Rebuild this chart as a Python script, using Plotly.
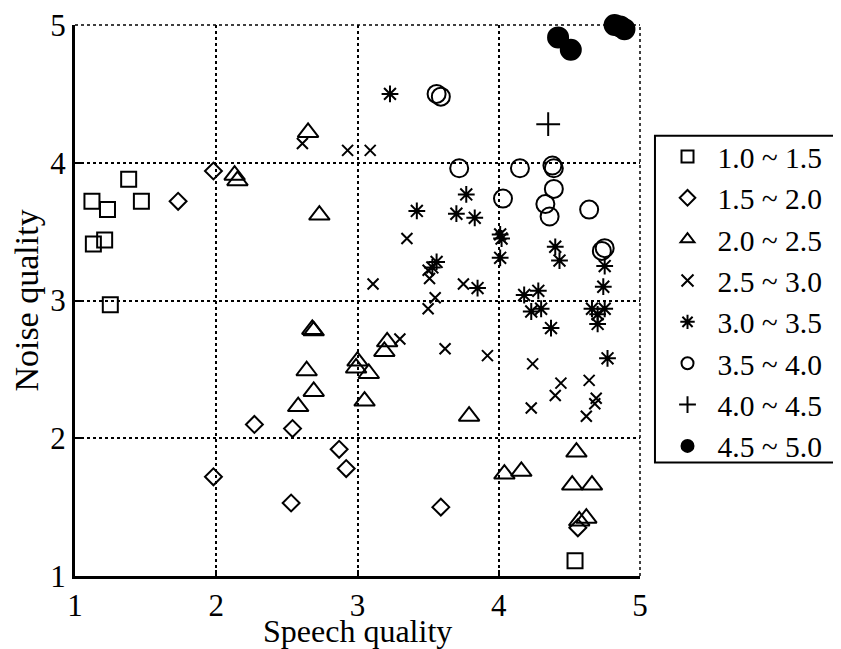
import plotly.graph_objects as go

# ---- data ----
labels = ["1.0 ~ 1.5", "1.5 ~ 2.0", "2.0 ~ 2.5", "2.5 ~ 3.0",
          "3.0 ~ 3.5", "3.5 ~ 4.0", "4.0 ~ 4.5", "4.5 ~ 5.0"]

sq_x = [1.12, 1.23, 1.38, 1.47, 1.13, 1.21, 1.25, 4.54]
sq_y = [3.72, 3.66, 3.88, 3.72, 3.41, 3.44, 2.97, 1.11]

di_x = [1.98, 1.73, 2.27, 2.54, 1.98, 2.53, 2.87, 2.92, 3.59, 4.56]
di_y = [3.94, 3.72, 2.10, 2.07, 1.72, 1.53, 1.92, 1.78, 1.50, 1.35]

tr_x = [2.65, 2.13, 2.15, 2.73, 2.68, 2.69, 2.64, 2.69, 2.58, 3.00, 2.99,
        3.08, 3.05, 3.21, 3.19, 3.79, 4.04, 4.16, 4.55, 4.52, 4.66, 4.62, 4.57]
tr_y = [4.22, 3.91, 3.87, 3.62, 2.79, 2.78, 2.49, 2.34, 2.23, 2.56, 2.51,
        2.47, 2.27, 2.70, 2.63, 2.16, 1.74, 1.76, 1.90, 1.66, 1.66, 1.42, 1.40]

xx_x = [2.61, 2.93, 3.09, 3.35, 3.11, 3.50, 3.51, 3.75, 3.55, 3.50, 3.30,
        3.62, 3.92, 4.24, 4.44, 4.40, 4.23, 4.64, 4.69, 4.68, 4.62]
xx_y = [4.14, 4.09, 4.09, 3.45, 3.12, 3.22, 3.16, 3.12, 3.02, 2.94, 2.72,
        2.65, 2.60, 2.54, 2.40, 2.31, 2.22, 2.42, 2.29, 2.25, 2.16]

as_x = [3.23, 3.42, 3.77, 3.70, 3.83, 4.01, 4.02, 4.01, 3.56, 3.53, 3.85,
        4.18, 4.28, 4.40, 4.43, 4.75, 4.74, 4.23, 4.30, 4.37, 4.66, 4.75,
        4.70, 4.77, 4.70]
as_y = [4.50, 3.65, 3.77, 3.63, 3.60, 3.48, 3.45, 3.31, 3.28, 3.24, 3.09,
        3.04, 3.07, 3.39, 3.29, 3.25, 3.10, 2.92, 2.94, 2.80, 2.94, 2.94,
        2.83, 2.58, 2.90]

ci_x = [3.56, 3.59, 3.72, 4.15, 4.38, 4.39, 4.03, 4.39, 4.33, 4.36, 4.64, 4.75, 4.73]
ci_y = [4.50, 4.48, 3.96, 3.96, 3.98, 3.96, 3.74, 3.81, 3.70, 3.61, 3.66, 3.38, 3.36]

pl_x = [4.35]
pl_y = [4.28]

fc_x = [4.42, 4.51, 4.82, 4.86, 4.89]
fc_y = [4.91, 4.82, 5.00, 4.99, 4.97]

x_ticks = [1, 2, 3, 4, 5]
y_ticks = [1, 2, 3, 4, 5]
x_title = "Speech quality"
y_title = "Noise quality"

series = [
    (sq_x, sq_y, "square-open", 15),
    (di_x, di_y, "diamond-open", 13),
    (tr_x, tr_y, "triangle-up-open", 18),
    (xx_x, xx_y, "x-thin-open", 11),
    (as_x, as_y, "asterisk-open", 14),
    (ci_x, ci_y, "circle-open", 18),
    (pl_x, pl_y, "cross-thin-open", 17),
    (fc_x, fc_y, "circle", 20),
]

FONT = "Liberation Serif"
fig = go.Figure()
for (xs, ys, sym, sz), lab in zip(series, labels):
    fig.add_trace(go.Scatter(
        x=xs, y=ys, mode="markers", name=lab,
        marker=dict(symbol=sym, size=sz, color="black",
                    line=dict(color="black", width=2)),
        cliponaxis=False,
    ))

fig.update_layout(
    width=841, height=649,
    paper_bgcolor="white", plot_bgcolor="white",
    margin=dict(l=67, r=209, t=17, b=81),
    font=dict(family=FONT, size=28, color="black"),
    showlegend=True,
    legend=dict(
        x=1.031, y=0.808, xanchor="left", yanchor="top",
        borderwidth=0, bgcolor="rgba(0,0,0,0)",
        font=dict(family=FONT, size=29.5, color="black"),
        itemsizing="constant", itemwidth=50,
        tracegroupgap=0,
    ),
    xaxis=dict(
        range=[1, 5], tickvals=x_ticks, ticktext=[str(v) for v in x_ticks],
        showgrid=True, gridcolor="black", griddash="dot", gridwidth=1.5,
        showline=True, linecolor="black", linewidth=3, mirror=False,
        ticks="inside", ticklen=6, tickwidth=2, tickcolor="black",
        zeroline=False, automargin=False, ticklabeloverflow="allow",
        tickfont=dict(family=FONT, size=31),
    ),
    yaxis=dict(
        range=[1, 5], tickvals=y_ticks, ticktext=[str(v) for v in y_ticks],
        showgrid=True, gridcolor="black", griddash="dot", gridwidth=1.5,
        showline=True, linecolor="black", linewidth=3, mirror=False,
        ticks="inside", ticklen=6, tickwidth=2, tickcolor="black",
        zeroline=False, automargin=False, ticklabeloverflow="allow",
        title=dict(text=y_title, font=dict(family=FONT, size=34), standoff=4),
        tickfont=dict(family=FONT, size=31),
    ),
)

# x-axis title placed as an annotation so it sits close under the tick labels
fig.add_annotation(text=x_title, xref="paper", yref="paper", x=0.5, y=-0.099,
                   xanchor="center", yanchor="middle", showarrow=False,
                   font=dict(family=FONT, size=32, color="black"))

# dotted top and right borders of the axes box
fig.add_shape(type="line", xref="paper", yref="paper", x0=0, x1=1, y0=1, y1=1,
              line=dict(color="black", width=1.5, dash="dot"))
fig.add_shape(type="line", xref="paper", yref="paper", x0=1, x1=1, y0=0, y1=1,
              line=dict(color="black", width=1.5, dash="dot"))
# legend frame
fig.add_shape(type="rect", xref="paper", yref="paper",
              x0=1.0265, x1=1.37, y0=0.206, y1=0.799,
              line=dict(color="black", width=2), fillcolor="white", layer="below")

fig.write_html("out.html")
